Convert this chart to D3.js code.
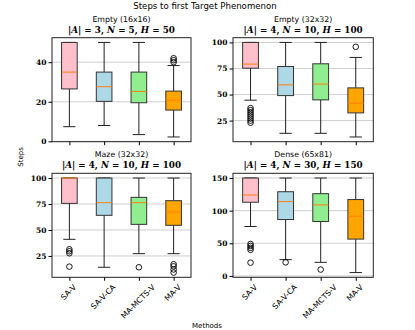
<!DOCTYPE html>
<html>
<head>
<meta charset="utf-8">
<script src="https://cdn.jsdelivr.net/npm/d3@7"></script>
<style>
  body { margin: 0; background: #fff; }
  svg text { fill: #000; }
</style>
</head>
<body>
<svg id="chart" width="415" height="330"></svg>
<script>
const methods = ["SA-V", "SA-V-CA", "MA-MCTS-V", "MA-V"];
const boxColors = ["#ffc0cb", "#add8e6", "#90ee90", "#ffa500"];

// box stats per method: [whiskerLow, q1, median, q3, whiskerHigh]
const empty16Stats = [[7.4, 26.5, 35, 50, 50], [8, 20.2, 27.6, 35, 50], [3.4, 19.5, 25.2, 35, 50], [2.2, 15.8, 20.8, 25.4, 38.3]];
const empty16Outliers = [[], [], [], [40, 41, 42]];
const empty32Stats = [[44.6, 75.3, 79.2, 100, 100], [12.8, 49, 59.3, 76.9, 100], [12.8, 44.9, 60, 79.5, 100], [9.3, 32.4, 41.7, 56.4, 85.6]];
const empty32Outliers = [[23, 25, 27, 29, 31, 33, 35, 37], [], [], [95.8]];
const mazeStats = [[41, 75.6, 100, 100, 100], [14.1, 64.1, 76.3, 100, 100], [27.2, 55.4, 76.3, 81.4, 100], [27.2, 54.5, 67.3, 78.2, 100]];
const mazeOutliers = [[14.7, 27.6, 29.5, 31.4], [], [14.1], [9, 12, 15, 17]];
const denseStats = [[75.7, 112.9, 124, 150, 150], [24.9, 86.4, 113.9, 129, 150], [20.8, 83.4, 108.8, 126, 150], [5.1, 56.4, 91.5, 117, 150]];
const denseOutliers = [[20.3, 40, 43, 46, 49], [20.8], [9.7], []];

const panelNames = ["Empty (16x16)", "Empty (32x32)", "Maze (32x32)", "Dense (65x81)"];
const panelA = [3, 4, 4, 4];
const panelN = [5, 10, 10, 30];
const panelH = [50, 100, 100, 150];
const panelTicks = [[0, 20, 40], [25, 50, 75, 100], [25, 50, 75, 100], [0, 50, 100, 150]];

const panels = [
  { stats: empty16Stats, outliers: empty16Outliers },
  { stats: empty32Stats, outliers: empty32Outliers },
  { stats: mazeStats, outliers: mazeOutliers },
  { stats: denseStats, outliers: denseOutliers }
];

const svg = d3.select("#chart");
const sans = "'DejaVu Sans', sans-serif";
const serif = "'DejaVu Serif', 'Liberation Serif', serif";

const frames = [
  { x0: 52, x1: 191, y0: 37.7, y1: 141.7 },
  { x0: 233, x1: 373.3, y0: 37.7, y1: 141.7 },
  { x0: 52, x1: 191, y0: 173.3, y1: 277.3 },
  { x0: 233, x1: 373.3, y0: 173.3, y1: 277.3 }
];

svg.append("text")
  .attr("x", 205).attr("y", 9)
  .attr("text-anchor", "middle")
  .attr("font-family", sans).attr("font-size", "8.6px")
  .text("Steps to first Target Phenomenon");

svg.append("text")
  .attr("transform", "translate(23,157) rotate(-90)")
  .attr("text-anchor", "middle")
  .attr("font-family", sans).attr("font-size", "7px")
  .text("Steps");

svg.append("text")
  .attr("x", 207).attr("y", 328)
  .attr("text-anchor", "middle")
  .attr("font-family", sans).attr("font-size", "7px")
  .text("Methods");

panels.forEach((p, k) => {
  const f = frames[k];
  const x = d3.scaleLinear().domain([0.5, 4.5]).range([f.x0, f.x1]);
  const all = p.stats.flat().concat(p.outliers.flat());
  const lo = d3.min(all), hi = d3.max(all), pad = (hi - lo) * 0.05;
  const y = d3.scaleLinear().domain([lo - pad, hi + pad]).range([f.y1, f.y0]);
  const g = svg.append("g");

  // grid
  g.selectAll(".grid").data(panelTicks[k]).join("line")
    .attr("x1", f.x0).attr("x2", f.x1)
    .attr("y1", d => y(d)).attr("y2", d => y(d))
    .attr("stroke", "#cfcfcf").attr("stroke-width", 1);

  const bw = 0.45, cw = 0.35;
  p.stats.forEach((s, i) => {
    const c = i + 1;
    const [wl, q1, med, q3, wh] = s;
    const line = (xa, ya, xb, yb) => g.append("line")
      .attr("x1", xa).attr("y1", ya).attr("x2", xb).attr("y2", yb)
      .attr("stroke", "#222").attr("stroke-width", 1);
    line(x(c), y(wl), x(c), y(q1));
    line(x(c), y(q3), x(c), y(wh));
    line(x(c - cw / 2), y(wl), x(c + cw / 2), y(wl));
    line(x(c - cw / 2), y(wh), x(c + cw / 2), y(wh));
    g.append("rect")
      .attr("x", x(c - bw / 2)).attr("y", y(q3))
      .attr("width", x(c + bw / 2) - x(c - bw / 2))
      .attr("height", Math.max(0.5, y(q1) - y(q3)))
      .attr("fill", boxColors[i]).attr("stroke", "#333").attr("stroke-width", 1);
    g.append("line")
      .attr("x1", x(c - bw / 2)).attr("x2", x(c + bw / 2))
      .attr("y1", y(med)).attr("y2", y(med))
      .attr("stroke", "#ff7f0e").attr("stroke-width", 1);
    g.selectAll(null).data(p.outliers[i]).join("circle")
      .attr("cx", x(c)).attr("cy", d => y(d)).attr("r", 2.8)
      .attr("fill", "none").attr("stroke", "#000").attr("stroke-width", 0.9);
  });

  // frame
  g.append("rect")
    .attr("x", f.x0).attr("y", f.y0)
    .attr("width", f.x1 - f.x0).attr("height", f.y1 - f.y0)
    .attr("fill", "none").attr("stroke", "#222").attr("stroke-width", 1);

  const yAxis = g.append("g")
    .attr("transform", `translate(${f.x0},0)`)
    .call(d3.axisLeft(y).tickValues(panelTicks[k]).tickSize(3.5).tickPadding(2));
  yAxis.select(".domain").remove();
  yAxis.selectAll("text").attr("font-family", serif).attr("font-size", "7.5px").attr("font-weight", "bold");

  const xAxis = g.append("g")
    .attr("transform", `translate(0,${f.y1})`)
    .call(d3.axisBottom(x).tickValues([1, 2, 3, 4]).tickSize(3.5).tickFormat(""));
  xAxis.select(".domain").remove();

  if (k >= 2) {
    methods.forEach((m, i) => {
      const t = g.append("text")
        .attr("font-family", sans).attr("font-size", "7.8px")
        .attr("text-anchor", "middle")
        .text(m);
      const len = t.node().getComputedTextLength();
      const half = len * Math.SQRT1_2 / 2 + 2.5;
      t.attr("transform", `translate(${x(i + 1) - 1},${f.y1 + 6 + half}) rotate(-45)`)
        .attr("dy", "0.35em");
    });
  }

  // subplot titles
  const cx = (f.x0 + f.x1) / 2;
  g.append("text")
    .attr("x", cx).attr("y", f.y0 - 16)
    .attr("text-anchor", "middle")
    .attr("font-family", sans).attr("font-size", "7.8px")
    .text(panelNames[k]);
  const mt = g.append("text")
    .attr("x", cx).attr("y", f.y0 - 5)
    .attr("text-anchor", "middle")
    .attr("font-family", serif).attr("font-size", "8.8px").attr("font-weight", "bold");
  mt.append("tspan").text("|");
  mt.append("tspan").attr("font-style", "italic").text("A");
  mt.append("tspan").text(`| = ${panelA[k]}, `);
  mt.append("tspan").attr("font-style", "italic").text("N");
  mt.append("tspan").text(` = ${panelN[k]}, `);
  mt.append("tspan").attr("font-style", "italic").text("H");
  mt.append("tspan").text(` = ${panelH[k]}`);
});
</script>
</body>
</html>
